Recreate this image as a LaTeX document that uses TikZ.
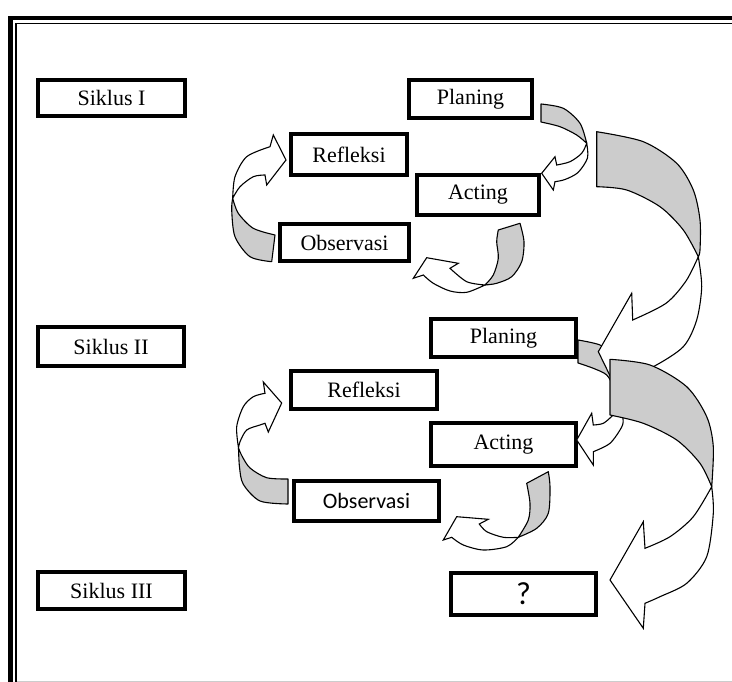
\documentclass[tikz,border=0pt]{standalone}
\usepackage{fontspec}
\setmainfont{Liberation Serif}
\newfontfamily\calibrisub{Carlito}
\usetikzlibrary{positioning}
\definecolor{ribbongray}{RGB}{204,204,204}

\begin{document}
\begin{tikzpicture}
[x=1pt, y=-1pt,
% STYLES
% boxes for the cycles and their steps
stage/.style={rectangle, draw, line width=3.8pt, inner sep=0pt, font=\fontsize{22}{24}\selectfont},
% the twisted block arrows: back face (grey) and front face (white)
ribbonback/.style={fill=ribbongray, draw, line width=1.1pt, line join=round},
ribbonfront/.style={fill=white, draw, line width=1.1pt, line join=miter}]

\path[use as bounding box] (0,0) rectangle (732,682);
\clip (0,0) rectangle (732,682);

% frame
\draw[line width=4.5pt] (10.5,18) rectangle (760,720);
\draw[line width=1.3pt] (16,23.5) rectangle (754,714);
\draw[gray!40, line width=0.8pt] (17,681) -- (732,681);

% Draw cycles
\node [stage, minimum width=147.5, minimum height=36.5] (siklus1) at (111.5,98) {Siklus I};
\node [stage, minimum width=146.5, minimum height=39.5] (siklus2) at (111,346.5) {Siklus II};
\node [stage, minimum width=147.5, minimum height=37.5] (siklus3) at (111.5,590.5) {Siklus III};

% cycle I
\node [stage, minimum width=123.5, minimum height=38.5] (plan1) at (470.5,99) {Planing};
\node [stage, minimum width=116.5, minimum height=41.5] (refl1) at (349,154.5) {Refleksi};
\node [stage, minimum width=122.5, minimum height=40.5] (act1) at (478,195) {Acting};
\node [stage, minimum width=129.5, minimum height=37.5] (obs1) at (344.5,242.5) {Observasi};

% cycle II
\node [stage, minimum width=145.5, minimum height=38.5] (plan2) at (503.5,338) {Planing};
\node [stage, minimum width=146.5, minimum height=38.5] (refl2) at (364,390) {Refleksi};
\node [stage, minimum width=145.5, minimum height=43.5] (act2) at (503.5,444.5) {Acting};
\node [stage, minimum width=145.5, minimum height=40.5, font=\calibrisub\fontsize{22}{24}\selectfont] (obs2) at (366.5,501) {Observasi};

% cycle III
\node [stage, minimum width=145.5, minimum height=42.5, font=\calibrisub\fontsize{32}{34}\selectfont] (next) at (523.5,594) {?};

%%%%%%%%%%%%%%%

% planing -> acting (I)
\path[ribbonback] plot[smooth] coordinates {(541,104) (563.3,108.3) (580,123.3) (586.7,143.3)}
  -- plot[smooth] coordinates {(586.7,143.3) (576.7,135) (560,126.7) (541,122)} -- cycle;
\path[ribbonfront] plot[smooth] coordinates {(586.7,143.3) (587.5,158) (578,172.5) (565,179.5) (555,181.7)}
  -- (553.3,190) -- (541.7,173.3) -- (555,156.7) -- (556.7,165)
  -- plot[smooth] coordinates {(556.7,165) (570,161.7) (581.7,153.3) (586.7,143.3)} -- cycle;

% observasi -> refleksi (I)
\path[ribbonback] plot[smooth] coordinates {(275,235) (253.3,228.3) (238.3,213.3) (232.7,198.3)}
  -- plot[smooth] coordinates {(232.7,198.3) (231.7,210) (235,236.7) (250,256.7) (271.7,261.7)} -- cycle;
\path[ribbonfront] plot[smooth] coordinates {(232.7,198.3) (235,176.7) (246.7,156.7) (270,146.7)}
  -- (273.3,135) -- (286,160) -- (266.7,185) -- (265,175)
  -- plot[smooth] coordinates {(265,175) (253.3,176.7) (240,186.7) (232.7,198.3)} -- cycle;

% acting -> observasi (I)
\path[ribbonback] plot[smooth] coordinates {(498.3,230) (496.7,241.7) (498.3,258.3) (493.3,275) (485,285)}
  -- plot[smooth] coordinates {(485,285) (496.7,283.3) (511.7,276.7) (521.7,261.7) (524,241.7) (520,223.3)} -- cycle;
\path[ribbonfront] plot[smooth] coordinates {(485,285) (466.7,292.3) (450,291) (433.3,283.3) (423.3,275)}
  -- (413.3,278.3) -- (426.7,257.7) -- (458.3,263.3) -- (450,268.3)
  -- plot[smooth] coordinates {(450,268.3) (466.7,281.7) (485,285)} -- cycle;

% planing -> acting (II)
\path[ribbonback] plot[smooth] coordinates {(578,340) (600,345) (615,356) (622,375) (620,405)}
  -- plot[smooth] coordinates {(620,405) (614,388) (606.7,375) (593.3,368.3) (578,363)} -- cycle;
\path[ribbonfront] plot[smooth] coordinates {(620,405) (623,418) (621.7,427) (610,443.3) (593.3,451.7)}
  -- (593.3,465) -- (576.7,440) -- (591.7,413.3) -- (593.3,425)
  -- plot[smooth] coordinates {(593.3,425) (603.3,423.3) (613,415) (620,405)} -- cycle;

% cycle I -> cycle II
\path[ribbonback] plot[smooth] coordinates {(596.7,131.7) (643.3,141.7) (676.7,163.3) (693.3,190) (700,220) (700,250) (698.3,256.7)}
  -- plot[smooth] coordinates {(698.3,256.7) (683.3,230) (660,206.7) (626.7,190) (596.7,186.7)} -- cycle;
\path[ribbonfront] plot[smooth] coordinates {(698.3,256.7) (701.7,286.7) (696.7,320) (683.3,346.7) (653.3,366.7) (630,375)}
  -- (617,390) -- (598.3,351.7) -- (631.7,293.3) -- (632.7,320)
  -- plot[smooth] coordinates {(632.7,320) (666,303.3) (686,281) (698.3,256.7)} -- cycle;

% cycle II -> cycle III
\path[ribbonback] plot[smooth] coordinates {(610,359.3) (650,365) (686.7,386.7) (706.7,416.7) (713.3,446.7) (711.7,486.7)}
  -- plot[smooth] coordinates {(711.7,486.7) (700,463.3) (676.7,440) (643.3,423.3) (610,415)} -- cycle;
\path[ribbonfront] plot[smooth] coordinates {(711.7,486.7) (713.3,513.3) (706.7,556.7) (686.7,583.3) (660,596.7) (645,603.3)}
  -- (643.3,628.3) -- (610,580) -- (643.3,521.7) -- (645,548.3)
  -- plot[smooth] coordinates {(645,548.3) (670,536.7) (693.3,516.7) (711.7,486.7)} -- cycle;

% observasi -> refleksi (II)
\path[ribbonback] plot[smooth] coordinates {(288,479) (266.7,477.7) (250,468) (242,456) (238.5,448)}
  -- plot[smooth] coordinates {(238.5,448) (239.5,467) (243.3,484.3) (260,501) (288,504)} -- cycle;
\path[ribbonfront] plot[smooth] coordinates {(238.5,448) (236.7,426.7) (243.3,406.7) (253.3,396.7) (265,393.3)}
  -- (263.3,382) -- (281.7,403) -- (268.3,432) -- (265,423.3)
  -- plot[smooth] coordinates {(265,423.3) (260,425) (246.7,430) (240,441.7) (238.5,448)} -- cycle;

% acting -> observasi (II)
\path[ribbonback] plot[smooth] coordinates {(526.7,483.3) (530,503.3) (528.3,520) (518.3,537.3)}
  -- plot[smooth] coordinates {(518.3,537.3) (536.7,528.3) (548.3,513.3) (550,486.7) (548.3,471.7)} -- cycle;
\path[ribbonfront] plot[smooth] coordinates {(518.3,537.3) (506.7,546.7) (483.3,550) (463.3,545) (451.7,537.3)}
  -- (443.3,540) -- (456.7,516.7) -- (488.3,519.3) -- (479.3,524)
  -- plot[smooth] coordinates {(479.3,524) (486.7,531.7) (503.3,537.3) (518.3,537.3)} -- cycle;

\end{tikzpicture}
\end{document}
